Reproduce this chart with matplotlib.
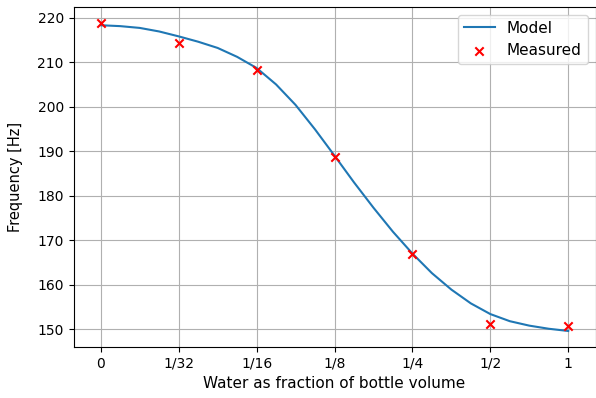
import matplotlib
matplotlib.use("Agg")
import matplotlib.pyplot as plt

tick_labels = ["0", "1/32", "1/16", "1/8", "1/4", "1/2", "1"]
measured_pos = [0, 1, 2, 3, 4, 5, 6]
measured_hz = [218.9, 214.4, 208.3, 188.7, 166.8, 151.1, 150.7]

model_pos = [0, 0.25, 0.5, 0.75, 1, 1.25, 1.5, 1.75, 2, 2.25, 2.5, 2.75, 3,
             3.25, 3.5, 3.75, 4, 4.25, 4.5, 4.75, 5, 5.25, 5.5, 5.75, 6]
model_hz = [218.3, 218.1, 217.7, 216.9, 215.8, 214.6, 213.2, 211.2, 208.7,
            205.0, 200.4, 194.9, 189.0, 183.0, 177.3, 171.9, 167.0, 162.6,
            158.9, 155.8, 153.4, 151.8, 150.8, 150.1, 149.6]

fig = plt.figure(figsize=(5.96, 3.98), dpi=100)
ax = fig.add_axes([73.5 / 596, 51 / 398, (596 - 73.5 - 0.5) / 596, (391 - 51) / 398])
ax.plot(model_pos, model_hz, color="#1f77b4", label="Model", zorder=2)
ax.scatter(measured_pos, measured_hz, marker="x", color="red", label="Measured", zorder=3)
ax.set_xticks(measured_pos)
ax.set_xticklabels(tick_labels)
ax.set_xlim(-0.35, 6.35)
ax.set_ylim(146.0, 222.4)
ax.set_yticks([150, 160, 170, 180, 190, 200, 210, 220])
ax.grid(True)
ax.set_axisbelow(True)
ax.set_xlabel("Water as fraction of bottle volume", fontsize=11)
ax.set_ylabel("Frequency [Hz]", fontsize=10.5, labelpad=10)
ax.legend(loc="upper right", fontsize=11)
fig.savefig("out.png", dpi=100)
